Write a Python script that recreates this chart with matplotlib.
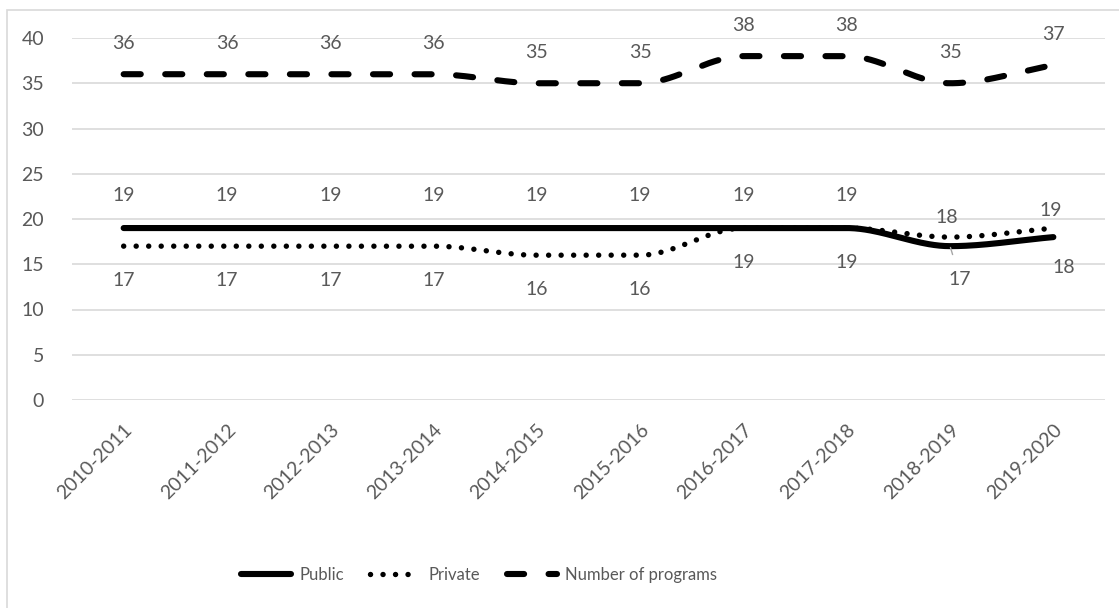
import matplotlib.pyplot as plt
import numpy as np
from matplotlib.patches import Rectangle

seasons = ['2010-2011', '2011-2012', '2012-2013', '2013-2014', '2014-2015',
           '2015-2016', '2016-2017', '2017-2018', '2018-2019', '2019-2020']
public = [19, 19, 19, 19, 19, 19, 19, 19, 17, 18]
private = [17, 17, 17, 17, 16, 16, 19, 19, 18, 19]
programs = [36, 36, 36, 36, 35, 35, 38, 38, 35, 37]

TXT = '#595959'
GRID = '#D9D9D9'
plt.rcParams['font.family'] = ['Lato', 'DejaVu Sans']


def smooth(y, n=40):
    # monotone cubic (pchip style) so flat runs stay flat
    y = np.asarray(y, dtype=float)
    d = np.diff(y)
    m = np.zeros_like(y)
    for i in range(1, len(y) - 1):
        if d[i - 1] * d[i] > 0:
            m[i] = 2 * d[i - 1] * d[i] / (d[i - 1] + d[i])
    m[0], m[-1] = d[0], d[-1]
    xs, ys = [], []
    for i in range(len(y) - 1):
        t = np.linspace(0, 1, n)
        h00 = 2 * t ** 3 - 3 * t ** 2 + 1
        h10 = t ** 3 - 2 * t ** 2 + t
        h01 = -2 * t ** 3 + 3 * t ** 2
        h11 = t ** 3 - t ** 2
        xs.append(i + t)
        ys.append(h00 * y[i] + h10 * m[i] + h01 * y[i + 1] + h11 * m[i + 1])
    return np.concatenate(xs), np.concatenate(ys)


fig = plt.figure(figsize=(11.19, 6.08), dpi=100)
ax = fig.add_axes([72 / 1119, 1 - 400 / 608, 1033 / 1119, 362 / 608])

x = np.arange(len(seasons))
xs, ys = smooth(public)
l_pub, = ax.plot(xs, ys, color='black', lw=4.4, solid_capstyle='round', label='Public')
xs, ys = smooth(private)
l_pri, = ax.plot(xs, ys, color='black', lw=3.9, dash_capstyle='round',
                 linestyle=(0, (0.01, 2.3)), label='Private')
xs, ys = smooth(programs)
l_num, = ax.plot(xs, ys, color='black', lw=4.4, dash_capstyle='round',
                 linestyle=(0, (2.8, 4.0)), label='Number of programs')

ax.set_xlim(-0.5, len(seasons) - 0.5)
ax.set_ylim(0, 40)
ax.set_yticks(range(0, 41, 5))
ax.set_xticks(x)
ax.set_xticklabels(seasons, rotation=45, ha='right', rotation_mode='anchor')
ax.tick_params(length=0, labelsize=14, colors=TXT)
ax.tick_params(axis='x', pad=15)
ax.tick_params(axis='y', pad=20)
ax.grid(axis='y', color=GRID, lw=1.2)
ax.set_axisbelow(True)
for s in ax.spines.values():
    s.set_visible(False)

lab = dict(ha='center', va='center', fontsize=14, color=TXT)
for i in range(len(seasons)):
    ax.annotate(str(programs[i]), (i, programs[i]), xytext=(0, 31),
                textcoords='offset pixels', **lab)
    if i < 8:
        ax.annotate(str(public[i]), (i, public[i]), xytext=(0, 33),
                    textcoords='offset pixels', **lab)
        ax.annotate(str(private[i]), (i, private[i]), xytext=(0, -34),
                    textcoords='offset pixels', **lab)

# last two seasons: private above, public below
ax.annotate(str(private[8]), (8, private[8]), xytext=(-3, 20),
            textcoords='offset pixels', **lab)
ax.annotate(str(public[8]), (8, public[8]), xytext=(10, -33),
            textcoords='offset pixels',
            arrowprops=dict(arrowstyle='-', color='#A6A6A6', lw=1,
                            shrinkA=10, shrinkB=1), **lab)
ax.annotate(str(private[9]), (9, private[9]), xytext=(-3, 18),
            textcoords='offset pixels', **lab)
ax.annotate(str(public[9]), (9, public[9]), xytext=(10, -30),
            textcoords='offset pixels', **lab)

fig.legend(handles=[l_pub, l_pri, l_num], loc='center', bbox_to_anchor=(479 / 1119, 1 - 575 / 608),
           ncol=3, frameon=False, fontsize=12, labelcolor=TXT, handlelength=3.0,
           handletextpad=0.5, columnspacing=1.6)

fig.add_artist(Rectangle((7 / 1119, -0.1), 1.2, 1 - 10 / 608 + 0.1,
                         transform=fig.transFigure, fill=False, edgecolor=GRID, lw=1.2))

fig.savefig('out.png', dpi=100)
